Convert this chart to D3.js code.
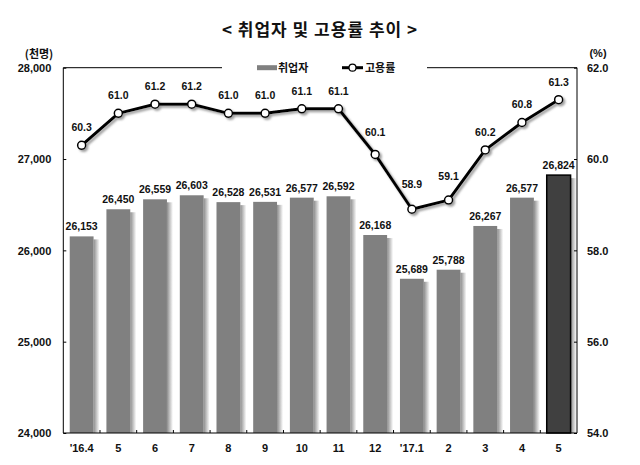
<!DOCTYPE html>
<html>
<head>
<meta charset="utf-8">
<script src="https://cdn.jsdelivr.net/npm/d3@7"></script>
<style>
  body { margin: 0; background: #fff; }
  text { font-family: "Liberation Sans", Arial, sans-serif; font-weight: bold; fill: #111; }
  .kr { font-family: "Noto Sans CJK KR", sans-serif; }
</style>
</head>
<body>
<div id="chart"></div>
<script>
'use strict';

var months = ["'16.4", "5", "6", "7", "8", "9", "10", "11", "12", "'17.1", "2", "3", "4", "5"];
var employed = [26153, 26450, 26559, 26603, 26528, 26531, 26577, 26592, 26168, 25689, 25788, 26267, 26577, 26824];
var rate = [60.3, 61.0, 61.2, 61.2, 61.0, 61.0, 61.1, 61.1, 60.1, 58.9, 59.1, 60.2, 60.8, 61.3];
var leftTicks = [24000, 25000, 26000, 27000, 28000];
var rightTicks = [54, 56, 58, 60, 62];

var drawChart = function () {
    var width = 640, height = 465;
    var left = 63.3, right = 577, top = 67.7, bottom = 433;

    var svg = d3.select("#chart")
        .append("svg")
        .attr("width", width)
        .attr("height", height);

    var defs = svg.append("defs");
    var grad = defs.append("linearGradient").attr("id", "barShadow");
    grad.append("stop").attr("offset", "0%").attr("stop-color", "#8c8c8c");
    grad.append("stop").attr("offset", "100%").attr("stop-color", "#ffffff");

    var filter = defs.append("filter").attr("id", "lineShadow")
        .attr("x", "-10%").attr("y", "-10%").attr("width", "130%").attr("height", "140%");
    filter.append("feDropShadow")
        .attr("dx", 2).attr("dy", 2).attr("stdDeviation", 1)
        .attr("flood-color", "#888").attr("flood-opacity", 0.8);

    var x = d3.scaleBand()
        .domain(d3.range(months.length))
        .range([left, right])
        .paddingInner(0);

    var yLeft = d3.scaleLinear().domain([24000, 28000]).range([bottom, top]);
    var yRight = d3.scaleLinear().domain([54, 62]).range([bottom, top]);

    var barW = x.bandwidth() * 0.65;
    var barX = function (i) { return x(i) + (x.bandwidth() - barW) / 2; };
    var last = employed.length - 1;

    // title
    svg.append("text")
        .attr("class", "kr")
        .attr("x", 320)
        .attr("y", 36)
        .attr("text-anchor", "middle")
        .style("font-size", "17px")
        .style("letter-spacing", "1px")
        .text("< 취업자 및 고용률 추이 >");

    // units
    svg.append("text").attr("class", "kr")
        .attr("x", 39).attr("y", 58)
        .attr("text-anchor", "middle")
        .style("font-size", "11px")
        .text("(천명)");
    svg.append("text")
        .attr("x", 598).attr("y", 57)
        .attr("text-anchor", "middle")
        .style("font-size", "11px")
        .text("(%)");

    // bar shadows
    svg.selectAll("rect.shadow")
        .data(employed)
        .enter()
        .append("rect")
        .attr("class", "shadow")
        .attr("x", function (d, i) { return barX(i) + barW; })
        .attr("y", function (d) { return yLeft(d) + 3; })
        .attr("width", 6)
        .attr("height", function (d) { return bottom - yLeft(d) - 3; })
        .style("fill", "url(#barShadow)");

    // bars
    svg.selectAll("rect.bar")
        .data(employed)
        .enter()
        .append("rect")
        .attr("class", "bar")
        .attr("x", function (d, i) { return barX(i); })
        .attr("y", function (d) { return yLeft(d); })
        .attr("width", barW)
        .attr("height", function (d) { return bottom - yLeft(d); })
        .style("fill", function (d, i) { return i == last ? "#404040" : "#808080"; })
        .style("stroke", function (d, i) { return i == last ? "#000" : "none"; })
        .style("stroke-width", 1.5);

    // bar labels
    svg.selectAll("text.barLabel")
        .data(employed)
        .enter()
        .append("text")
        .attr("class", "barLabel")
        .attr("x", function (d, i) { return x(i) + x.bandwidth() / 2; })
        .attr("y", function (d) { return yLeft(d) - 6; })
        .attr("text-anchor", "middle")
        .style("font-size", "10.5px")
        .text(function (d) { return d3.format(",")(d); });

    // frame
    var frame = svg.append("g").style("stroke", "#000").style("stroke-width", 1).style("fill", "none");
    frame.append("line").attr("x1", left).attr("x2", left).attr("y1", top).attr("y2", bottom);
    frame.append("line").attr("x1", right).attr("x2", right).attr("y1", top).attr("y2", bottom);
    frame.append("line").attr("x1", left).attr("x2", right).attr("y1", bottom).attr("y2", bottom);
    frame.append("line").attr("x1", left).attr("x2", 222).attr("y1", top).attr("y2", top);
    frame.append("line").attr("x1", 427).attr("x2", right).attr("y1", top).attr("y2", top);

    // axes
    var leftAxis = svg.append("g")
        .attr("transform", "translate(" + left + ",0)")
        .call(d3.axisLeft(yLeft).tickValues(leftTicks).tickSizeInner(-3).tickSizeOuter(0).tickPadding(12).tickFormat(d3.format(",")));
    var rightAxis = svg.append("g")
        .attr("transform", "translate(" + right + ",0)")
        .call(d3.axisRight(yRight).tickValues(rightTicks).tickSizeInner(-3).tickSizeOuter(0).tickPadding(10).tickFormat(d3.format(".1f")));
    var xAxis = svg.append("g")
        .attr("transform", "translate(0," + bottom + ")")
        .call(d3.axisBottom(x).tickSize(0).tickPadding(9).tickFormat(function (i) { return months[i]; }));

    [leftAxis, rightAxis, xAxis].forEach(function (a) {
        a.select(".domain").remove();
        a.selectAll("text").style("font-size", "11px").style("fill", "#111");
        a.selectAll("line").style("stroke", "#000");
    });
    leftAxis.selectAll("text").attr("dy", "0.35em");
    rightAxis.selectAll("text").attr("dy", "0.35em");
    xAxis.selectAll("text").attr("dy", "0.9em");

    // small ticks between categories
    svg.selectAll("line.sep")
        .data(d3.range(1, months.length))
        .enter()
        .append("line")
        .attr("class", "sep")
        .attr("x1", function (i) { return x(i); })
        .attr("x2", function (i) { return x(i); })
        .attr("y1", bottom)
        .attr("y2", bottom - 3)
        .style("stroke", "#000");

    // rate line
    var cx = function (i) { return x(i) + x.bandwidth() / 2; };
    var line = d3.line()
        .x(function (d, i) { return cx(i); })
        .y(function (d) { return yRight(d); });

    var rateGroup = svg.append("g").attr("filter", "url(#lineShadow)");
    rateGroup.append("path")
        .datum(rate)
        .attr("d", line)
        .style("fill", "none")
        .style("stroke", "#000")
        .style("stroke-width", 3)
        .style("stroke-linejoin", "round");

    rateGroup.selectAll("circle")
        .data(rate)
        .enter()
        .append("circle")
        .attr("cx", function (d, i) { return cx(i); })
        .attr("cy", function (d) { return yRight(d); })
        .attr("r", 4)
        .style("fill", "#fff")
        .style("stroke", "#000")
        .style("stroke-width", 1.5);

    // rate labels, lifted clear of the line
    var labelY = function (d, i) {
        var py = yRight(d);
        var y = py - 14;
        var half = 11 / x.bandwidth();
        if (i > 0) y = Math.min(y, py + (yRight(rate[i - 1]) - py) * half - 5);
        if (i < rate.length - 1) y = Math.min(y, py + (yRight(rate[i + 1]) - py) * half - 5);
        return y;
    };

    svg.selectAll("text.rateLabel")
        .data(rate)
        .enter()
        .append("text")
        .attr("class", "rateLabel")
        .attr("x", function (d, i) { return cx(i); })
        .attr("y", labelY)
        .attr("text-anchor", "middle")
        .style("font-size", "10.5px")
        .text(function (d) { return d.toFixed(1); });

    // legend
    var legend = svg.append("g");
    legend.append("rect")
        .attr("x", 257).attr("y", top - 2.5)
        .attr("width", 20).attr("height", 5)
        .style("fill", "#808080");
    legend.append("text").attr("class", "kr")
        .attr("x", 278).attr("y", top + 4)
        .style("font-size", "11px")
        .text("취업자");
    legend.append("line")
        .attr("x1", 342).attr("x2", 363).attr("y1", top).attr("y2", top)
        .style("stroke", "#000").style("stroke-width", 3);
    legend.append("circle")
        .attr("cx", 352.5).attr("cy", top).attr("r", 3.5)
        .style("fill", "#fff").style("stroke", "#000").style("stroke-width", 1.2);
    legend.append("text").attr("class", "kr")
        .attr("x", 365).attr("y", top + 4)
        .style("font-size", "11px")
        .text("고용률");
};

drawChart();
</script>
</body>
</html>
